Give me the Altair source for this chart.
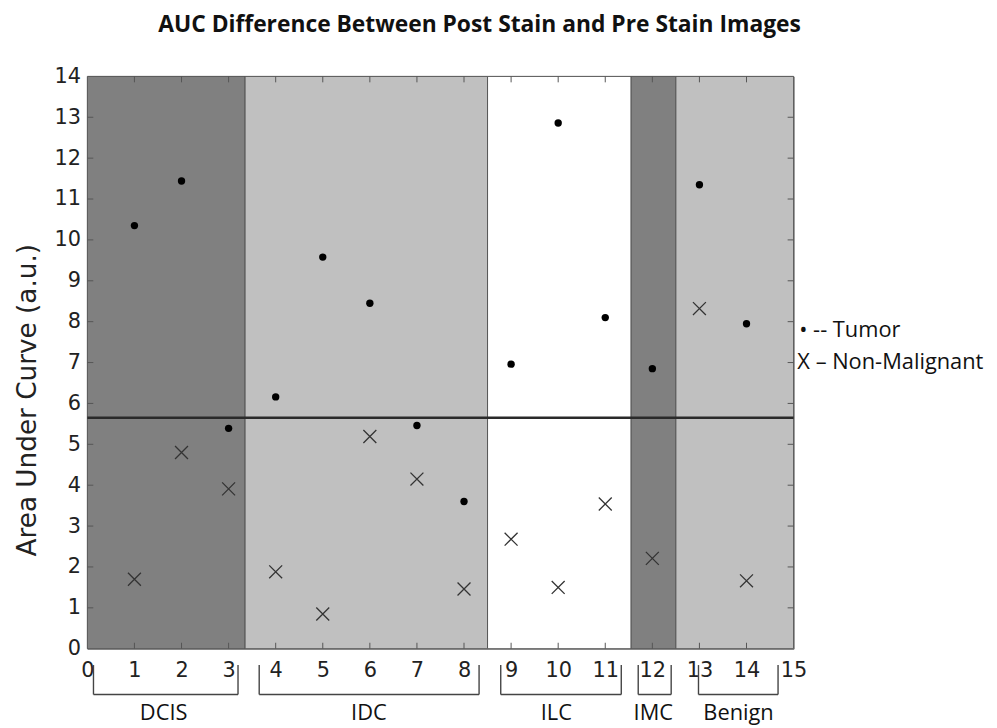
import altair as alt
import pandas as pd

# ---- data ----
samples = list(range(1, 15))
tumor = [10.35, 11.44, 5.39, 6.16, 9.58, 8.45, 5.46, 3.60, 6.96, 12.86, 8.10, 6.85, 11.35, 7.95]
non_malignant = [1.70, 4.80, 3.91, 1.88, 0.85, 5.19, 4.15, 1.46, 2.68, 1.50, 3.54, 2.21, 8.32, 1.66]

groups = ["DCIS", "IDC", "ILC", "IMC", "Benign"]
band_start = [0, 3.35, 8.5, 11.55, 12.5]
band_end = [3.35, 8.5, 11.55, 12.5, 15]
band_color = ["#808080", "#c0c0c0", "#ffffff", "#808080", "#c0c0c0"]
bracket_start = [0.13, 3.65, 8.78, 11.7, 12.98]
bracket_end = [3.2, 8.32, 11.34, 12.4, 14.67]
label_x = [1.62, 5.98, 9.96, 12.02, 13.83]

threshold = 5.65
x_ticks = list(range(0, 16))
y_ticks = list(range(0, 15))
title_text = "AUC Difference Between Post Stain and Pre Stain Images"

W, H = 712, 577

pts = pd.DataFrame({"sample": samples, "tumor": tumor, "nonmal": non_malignant})
bands = pd.DataFrame({"name": groups, "x0": band_start, "x1": band_end, "c": band_color,
                      "b0": bracket_start, "b1": bracket_end, "lx": label_x})
xt = pd.DataFrame({"v": x_ticks[1:-1]})
yt = pd.DataFrame({"v": y_ticks[1:-1]})

xs = alt.Scale(domain=[0, 15], nice=False, zero=False)
ys = alt.Scale(domain=[0, 14], nice=False, zero=False)
xa = alt.Axis(values=x_ticks, title=None, grid=False, domain=False, tickSize=0,
              labelFont="DejaVu Sans", labelFontSize=21, labelColor="#222",
              labelPadding=11, labelFlush=False, labelOverlap=False)
ya = alt.Axis(values=y_ticks, title="Area Under Curve (a.u.)", grid=False, domain=False, tickSize=0,
              labelFont="DejaVu Sans", labelFontSize=21, labelColor="#222",
              labelPadding=7, labelFlush=False, labelOverlap=False,
              titleFont="DejaVu Sans", titleFontSize=26.5, titleFontWeight="normal",
              titleColor="#222", titleAngle=270, titleX=-60, titleY=326,
              titleAlign="center", titleBaseline="middle")

band_layer = alt.Chart(bands).mark_rect(stroke="#555", strokeWidth=1).encode(
    x=alt.X("x0:Q", scale=xs, axis=xa), x2="x1:Q",
    y=alt.Y(datum=0, scale=ys, axis=ya), y2=alt.datum(14),
    color=alt.Color("c:N", scale=None),
)

hline = alt.Chart(pd.DataFrame({"t": [threshold]})).mark_rule(color="#2a2a2a", strokeWidth=2.5).encode(
    y=alt.Y("t:Q", scale=ys, axis=ya), x=alt.X(datum=0, scale=xs, axis=xa), x2=alt.datum(15)
)

dots = alt.Chart(pts).mark_point(shape="circle", filled=True, color="#000", size=55, opacity=1).encode(
    x=alt.X("sample:Q", scale=xs, axis=xa), y=alt.Y("tumor:Q", scale=ys, axis=ya)
)

crosses = alt.Chart(pts).mark_point(shape="M-1,-1L1,1M-1,1L1,-1", filled=False, color="#333",
                                    strokeWidth=1.3, size=170, opacity=1).encode(
    x=alt.X("sample:Q", scale=xs, axis=xa), y=alt.Y("nonmal:Q", scale=ys, axis=ya)
)

tick_color = "#555"
tb = alt.Chart(xt).mark_rule(color=tick_color).encode(
    x=alt.X("v:Q", scale=xs, axis=xa), y=alt.value(H), y2=alt.value(H - 6))
tt = alt.Chart(xt).mark_rule(color=tick_color).encode(
    x=alt.X("v:Q", scale=xs, axis=xa), y=alt.value(0), y2=alt.value(6))
tl = alt.Chart(yt).mark_rule(color=tick_color).encode(
    y=alt.Y("v:Q", scale=ys, axis=ya), x=alt.value(0), x2=alt.value(6))
tr = alt.Chart(yt).mark_rule(color=tick_color).encode(
    y=alt.Y("v:Q", scale=ys, axis=ya), x=alt.value(W), x2=alt.value(W - 6))

br_color = "#444"
br_h = alt.Chart(bands).mark_rule(color=br_color, strokeWidth=1.4).encode(
    x=alt.X("b0:Q", scale=xs, axis=xa), x2="b1:Q", y=alt.Y(datum=-1.12, scale=ys, axis=ya))
br_l = alt.Chart(bands).mark_rule(color=br_color, strokeWidth=1.4).encode(
    x=alt.X("b0:Q", scale=xs, axis=xa), y=alt.Y(datum=-0.4, scale=ys, axis=ya), y2=alt.datum(-1.12))
br_r = alt.Chart(bands).mark_rule(color=br_color, strokeWidth=1.4).encode(
    x=alt.X("b1:Q", scale=xs, axis=xa), y=alt.Y(datum=-0.4, scale=ys, axis=ya), y2=alt.datum(-1.12))

glabels = alt.Chart(bands).mark_text(font="Open Sans", fontSize=22, color="#111", baseline="middle").encode(
    x=alt.X("lx:Q", scale=xs, axis=xa), y=alt.Y(datum=-1.58, scale=ys, axis=ya), text="name:N")

leg1 = alt.Chart(pd.DataFrame({"t": ["\u2022 -- Tumor"]})).mark_text(
    font="Open Sans", fontSize=22, color="#111", align="left", baseline="middle").encode(
    x=alt.X(datum=15.12, scale=xs, axis=xa), y=alt.Y(datum=7.79, scale=ys, axis=ya), text="t:N")
leg2 = alt.Chart(pd.DataFrame({"t": ["X \u2013 Non-Malignant"]})).mark_text(
    font="Open Sans", fontSize=22, color="#111", align="left", baseline="middle").encode(
    x=alt.X(datum=15.08, scale=xs, axis=xa), y=alt.Y(datum=7.01, scale=ys, axis=ya), text="t:N")

title_layer = alt.Chart(pd.DataFrame({"t": [title_text]})).mark_text(
    font="Open Sans", fontSize=23, fontWeight="bold", color="#111", align="center", baseline="middle").encode(
    x=alt.X(datum=8.33, scale=xs, axis=xa), y=alt.Y(datum=15.26, scale=ys, axis=ya), text="t:N")

chart = alt.layer(
    band_layer, hline, dots, crosses, tb, tt, tl, tr, br_h, br_l, br_r, glabels, leg1, leg2, title_layer
).properties(
    width=W, height=H,
    autosize="none",
    padding={"left": 80, "top": 66, "right": 197, "bottom": 78},
).configure_view(stroke="#666", strokeWidth=1)

chart.save("out.html", embed_options={"renderer": "svg", "actions": False})
